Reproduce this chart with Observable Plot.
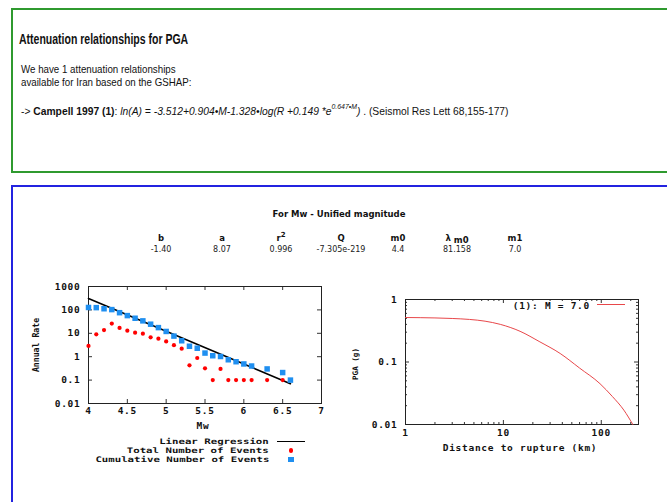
<!DOCTYPE html>
<html><head><meta charset="utf-8">
<script src="https://cdn.jsdelivr.net/npm/d3@7"></script>
<script src="https://cdn.jsdelivr.net/npm/@observablehq/plot@0.6"></script>
<style>
body{margin:0;width:667px;height:502px;overflow:hidden;background:#fff;position:relative;font-family:"Liberation Sans",Arial,sans-serif;color:#111;}
.abs{position:absolute;white-space:nowrap;}
.c{transform:translate(-50%,-50%);}
.mono{font-family:"DejaVu Sans Mono",monospace;font-weight:bold;font-size:9.5px;letter-spacing:0.72px;color:#111;line-height:9px;}
.st{font-family:"DejaVu Sans",Verdana,sans-serif;font-size:8px;color:#222;line-height:10px;}
.sth{font-weight:bold;font-size:8.5px;color:#111;}
.para{font-size:11.2px;line-height:11.2px;transform-origin:0 50%;transform:translate(0,-50%) scaleX(0.87);}
.leg{font-family:"DejaVu Sans Mono",monospace;font-weight:bold;font-size:7.6px;line-height:7.6px;color:#111;transform-origin:100% 50%;}
</style></head><body>
<div class="abs" style="left:11px;top:8px;width:700px;height:161px;border:2px solid #2f9a2f;"></div>
<div class="abs" style="left:11px;top:185px;width:700px;height:400px;border:2px solid #2323e0;"></div>

<div class="abs" style="left:19px;top:38.5px;font-weight:bold;font-size:14px;line-height:14px;transform-origin:0 50%;transform:translate(0,-50%) scaleX(0.75);">Attenuation relationships for PGA</div>
<div class="abs para" style="left:21px;top:70px;">We have 1 attenuation relationships</div>
<div class="abs para" style="left:21px;top:83px;">available for Iran based on the GSHAP:</div>
<div class="abs para" style="left:21px;top:111.5px;transform:translate(0,-50%) scaleX(0.92);">-&gt; <b>Campell 1997 (1)</b>: <i>ln(A) = -3.512+0.904•M-1.328•log(R +0.149 *e<sup style="font-size:7.5px;vertical-align:6px;line-height:0">0.647•M</sup>)</i> . (Seismol Res Lett 68,155-177)</div>

<div id="stats"></div>
<div id="leftplot" class="abs" style="left:20px;top:270px;"></div>
<div id="rightplot" class="abs" style="left:340px;top:285px;"></div>

<div class="abs mono c" style="left:203px;top:425px;">Mw</div>
<div class="abs mono" style="left:36px;top:345px;font-size:8.2px;letter-spacing:0;transform:translate(-50%,-50%) rotate(-90deg);">Annual Rate</div>
<div class="abs mono c" style="left:520px;top:447px;">Distance to rupture (km)</div>
<div class="abs mono" style="left:355px;top:364px;font-size:7.6px;letter-spacing:0;transform:translate(-50%,-50%) rotate(-90deg);">PGA (g)</div>

<div id="legL"></div>
<div class="abs mono" style="left:0;width:590px;text-align:right;top:305px;transform:translateY(-50%);">(1): M = 7.0</div>
<div class="abs" style="left:597px;top:304px;width:28px;height:1px;background:#e8474a;"></div>

<script>
// ---------- data ----------
const statNames = ["b", "a", "r²", "Q", "m0", "λm0", "m1"];
const statValues = ["-1.40", "8.07", "0.996", "-7.305e-219", "4.4", "81.158", "7.0"];

const mw = [4.0,4.1,4.2,4.3,4.4,4.5,4.6,4.7,4.8,4.9,5.0,5.1,5.2,5.3,5.4,5.5,5.6,5.7,5.8,5.9,6.0,6.1,6.3,6.5,6.6];
const totalEvents = [2.9,9.0,13.7,26,17,12.9,10.6,9.6,6.7,5.9,4.5,3.1,2.2,0.43,0.88,0.32,0.1,0.3,0.1,0.1,0.1,0.1,0.1,0.1,0.1];
const cumulativeEvents = [127,125,112,103,76,57,44,34,24.5,17.5,12,7.6,4.8,2.8,2.3,1.43,1.1,1.02,0.74,0.61,0.49,0.40,0.30,0.21,0.10];
const regMw = [4.0, 6.6];
const regRate = [310, 0.07];

const mwTicks = [4, 4.5, 5, 5.5, 6, 6.5, 7];
const rateTicks = [0.01, 0.1, 1, 10, 100, 1000];

const distance = [1, 2, 3, 4.5, 6.5, 9.3, 14.8, 23.6, 38, 60, 97, 130, 170, 210];
const pga = [0.515, 0.507, 0.497, 0.48, 0.45, 0.40, 0.31, 0.21, 0.137, 0.08, 0.045, 0.028, 0.017, 0.01];
const distTicks = [1, 10, 100];
const distMinor = [2,3,4,5,6,7,8,9,20,30,40,50,60,70,80,90,200];
const pgaTicks = [0.01, 0.1, 1];
const pgaMinor = [0.02,0.03,0.04,0.05,0.06,0.07,0.08,0.09,0.2,0.3,0.4,0.5,0.6,0.7,0.8,0.9];

const legendLabels = ["Linear Regression", "Total Number of Events", "Cumulative Number of Events"];

// ---------- stats table ----------
const statX = [161, 222, 281, 341, 398, 457, 515];
let sh = `<div class="abs st sth c" style="left:339px;top:214px;">For Mw - Unified magnitude</div>`;
statNames.forEach((n, i) => {
  let lab = n;
  if (n === "r²") lab = `r<sup style="font-size:7px;vertical-align:4px;line-height:0">2</sup>`;
  if (n === "λm0") lab = `λ <sub style="font-size:8.5px;vertical-align:-2px;line-height:0">m0</sub>`;
  sh += `<div class="abs st sth c" style="left:${statX[i]}px;top:238px;">${lab}</div>`;
  sh += `<div class="abs st c" style="left:${statX[i]}px;top:250px;">${statValues[i]}</div>`;
});
document.getElementById("stats").innerHTML = sh;

// ---------- left legend ----------
const legY = [441.5, 450.5, 459.5];
let lh = "";
legendLabels.forEach((t, i) => {
  lh += `<div class="abs leg" style="right:${667-269}px;top:${legY[i]}px;transform:translateY(-50%) scaleX(1.41);">${t}</div>`;
});
lh += `<div class="abs" style="left:277px;top:${legY[0]-0.8}px;width:28px;height:1.6px;background:#000;"></div>`;
lh += `<div class="abs" style="left:289px;top:${legY[1]-2.1}px;width:4.2px;height:4.2px;border-radius:50%;background:#f00;"></div>`;
lh += `<div class="abs" style="left:288.2px;top:${legY[2]-2.3}px;width:5.6px;height:4.6px;background:#1f8ff0;"></div>`;
document.getElementById("legL").innerHTML = lh;

const baseStyle = {fontFamily: "DejaVu Sans Mono, monospace", fontSize: "9.5px", letterSpacing: "0.72px", fontWeight: "bold", color: "#111", background: "transparent", overflow: "visible"};
const fmt = d => String(d);

// ---------- left plot ----------
{
  const W = 320, H = 170, ml = 68, mr = 19, mt = 16, mb = 37;
  const fH = H - mt - mb, fW = W - ml - mr;
  const tot = mw.map((m, i) => ({m, v: totalEvents[i]}));
  const cum = mw.map((m, i) => ({m, v: cumulativeEvents[i]}));
  const reg = regMw.map((m, i) => ({m, v: regRate[i]}));
  const inner = mwTicks.slice(1, -1);
  const innerY = rateTicks.slice(1, -1);
  const p = Plot.plot({
    width: W, height: H, marginLeft: ml, marginRight: mr, marginTop: mt, marginBottom: mb,
    style: baseStyle,
    x: {domain: [4, 7]},
    y: {type: "log", domain: [0.01, 1000]},
    marks: [
      Plot.axisX(mwTicks, {tickSize: 0, tickPadding: 4, tickFormat: fmt, label: null}),
      Plot.axisY(rateTicks, {tickSize: 0, tickPadding: 8, tickFormat: fmt, label: null}),
      Plot.tickX(inner, {x: d => d, insetTop: fH - 4, stroke: "#333"}),
      Plot.tickX(inner, {x: d => d, insetBottom: fH - 4, stroke: "#333"}),
      Plot.tickY(innerY, {y: d => d, insetRight: fW - 4, stroke: "#333"}),
      Plot.tickY(innerY, {y: d => d, insetLeft: fW - 4, stroke: "#333"}),
      Plot.frame({stroke: "#222"}),
      Plot.line(reg, {x: "m", y: "v", stroke: "#000", strokeWidth: 1.6}),
      Plot.dot(tot, {x: "m", y: "v", r: 2.1, fill: "#f00"}),
      Plot.dot(cum, {x: "m", y: "v", symbol: "square", r: 3.1, fill: "#1f8ff0"})
    ]
  });
  document.getElementById("leftplot").appendChild(p);
}

// ---------- right plot ----------
{
  const W = 320, H = 170, ml = 65, mr = 22, mt = 14, mb = 31;
  const fH = H - mt - mb, fW = W - ml - mr;
  const curve = distance.map((d, i) => ({d, v: pga[i]}));
  const p = Plot.plot({
    width: W, height: H, marginLeft: ml, marginRight: mr, marginTop: mt, marginBottom: mb,
    style: baseStyle,
    x: {type: "log", domain: [1, 240]},
    y: {type: "log", domain: [0.01, 1]},
    marks: [
      Plot.axisX(distTicks, {tickSize: 0, tickPadding: 5, tickFormat: fmt, label: null}),
      Plot.axisY(pgaTicks, {tickSize: 0, tickPadding: 8, tickFormat: fmt, label: null}),
      Plot.tickX([10, 100], {x: d => d, insetTop: fH - 4, stroke: "#333"}),
      Plot.tickX([10, 100], {x: d => d, insetBottom: fH - 4, stroke: "#333"}),
      Plot.tickX(distMinor, {x: d => d, insetTop: fH - 2, stroke: "#333"}),
      Plot.tickX(distMinor, {x: d => d, insetBottom: fH - 2, stroke: "#333"}),
      Plot.tickY([0.1], {y: d => d, insetRight: fW - 4, stroke: "#333"}),
      Plot.tickY([0.1], {y: d => d, insetLeft: fW - 4, stroke: "#333"}),
      Plot.tickY(pgaMinor, {y: d => d, insetRight: fW - 2, stroke: "#333"}),
      Plot.tickY(pgaMinor, {y: d => d, insetLeft: fW - 2, stroke: "#333"}),
      Plot.frame({stroke: "#222"}),
      Plot.line(curve, {x: "d", y: "v", stroke: "#e8474a", strokeWidth: 1, curve: "monotone-x"})
    ]
  });
  document.getElementById("rightplot").appendChild(p);
}
</script>
</body></html>
